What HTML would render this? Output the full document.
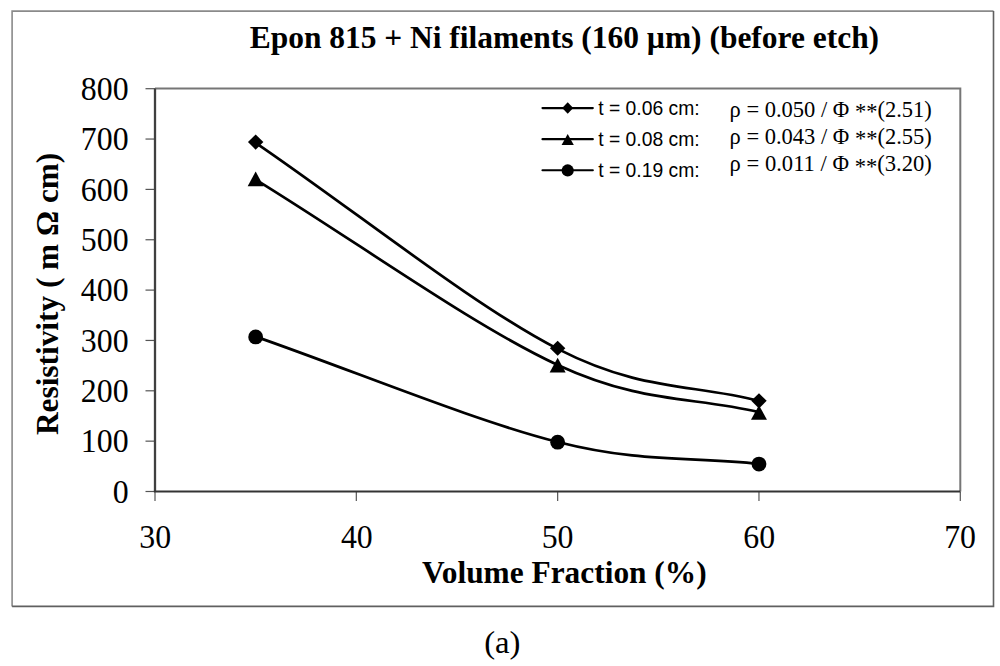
<!DOCTYPE html>
<html><head><meta charset="utf-8"><style>
html,body{margin:0;padding:0;background:#fff;width:1000px;height:666px;overflow:hidden}
svg{display:block}
text{fill:#000}
</style></head><body>
<svg width="1000" height="666" viewBox="0 0 1000 666">
<rect x="0" y="0" width="1000" height="666" fill="#fff"/>
<path d="M12.1,606.4 L12.1,11.1 L993.5,11.1" fill="none" stroke="#8a8a8a" stroke-width="1.6"/>
<path d="M993.5,11.1 L993.5,606.4 L12.1,606.4" fill="none" stroke="#606060" stroke-width="1.6"/>
<path d="M155,88.6 L960.3,88.6 L960.3,491.5" fill="none" stroke="#767676" stroke-width="2"/>
<g stroke="#555" stroke-width="1.2">
<line x1="145.5" y1="491.50" x2="155" y2="491.50"/>
<line x1="145.5" y1="441.15" x2="155" y2="441.15"/>
<line x1="145.5" y1="390.80" x2="155" y2="390.80"/>
<line x1="145.5" y1="340.45" x2="155" y2="340.45"/>
<line x1="145.5" y1="290.10" x2="155" y2="290.10"/>
<line x1="145.5" y1="239.75" x2="155" y2="239.75"/>
<line x1="145.5" y1="189.40" x2="155" y2="189.40"/>
<line x1="145.5" y1="139.05" x2="155" y2="139.05"/>
<line x1="145.5" y1="88.70" x2="155" y2="88.70"/>
<line x1="155.00" y1="491.5" x2="155.00" y2="501"/>
<line x1="356.32" y1="491.5" x2="356.32" y2="501"/>
<line x1="557.65" y1="491.5" x2="557.65" y2="501"/>
<line x1="758.97" y1="491.5" x2="758.97" y2="501"/>
<line x1="960.30" y1="491.5" x2="960.30" y2="501"/>
</g>
<path d="M155,88.6 L155,491.5" fill="none" stroke="#404040" stroke-width="2.3"/>
<path d="M153.9,491.5 L960.3,491.5" fill="none" stroke="#333" stroke-width="2.2"/>
<text transform="translate(249.69,47.90) scale(1.0149,1.0000)" style='font-family:"Liberation Serif",serif;font-weight:bold;font-size:31px'>Epon 815 + Ni filaments (160 µm) (before etch)</text>
<text transform="translate(112.68,502.70) scale(0.9650,1.0000)" style='font-family:"Liberation Serif",serif;font-weight:normal;font-size:33px'>0</text>
<text transform="translate(80.84,452.35) scale(0.9650,1.0000)" style='font-family:"Liberation Serif",serif;font-weight:normal;font-size:33px'>100</text>
<text transform="translate(80.84,402.00) scale(0.9650,1.0000)" style='font-family:"Liberation Serif",serif;font-weight:normal;font-size:33px'>200</text>
<text transform="translate(80.84,351.65) scale(0.9650,1.0000)" style='font-family:"Liberation Serif",serif;font-weight:normal;font-size:33px'>300</text>
<text transform="translate(80.84,301.30) scale(0.9650,1.0000)" style='font-family:"Liberation Serif",serif;font-weight:normal;font-size:33px'>400</text>
<text transform="translate(80.84,250.95) scale(0.9650,1.0000)" style='font-family:"Liberation Serif",serif;font-weight:normal;font-size:33px'>500</text>
<text transform="translate(80.84,200.60) scale(0.9650,1.0000)" style='font-family:"Liberation Serif",serif;font-weight:normal;font-size:33px'>600</text>
<text transform="translate(80.84,150.25) scale(0.9650,1.0000)" style='font-family:"Liberation Serif",serif;font-weight:normal;font-size:33px'>700</text>
<text transform="translate(80.84,99.90) scale(0.9650,1.0000)" style='font-family:"Liberation Serif",serif;font-weight:normal;font-size:33px'>800</text>
<text transform="translate(139.26,547.70) scale(0.9650,1.0000)" style='font-family:"Liberation Serif",serif;font-weight:normal;font-size:33px'>30</text>
<text transform="translate(340.94,547.70) scale(0.9650,1.0000)" style='font-family:"Liberation Serif",serif;font-weight:normal;font-size:33px'>40</text>
<text transform="translate(541.67,547.70) scale(0.9650,1.0000)" style='font-family:"Liberation Serif",serif;font-weight:normal;font-size:33px'>50</text>
<text transform="translate(743.23,547.70) scale(0.9650,1.0000)" style='font-family:"Liberation Serif",serif;font-weight:normal;font-size:33px'>60</text>
<text transform="translate(944.19,547.70) scale(0.9650,1.0000)" style='font-family:"Liberation Serif",serif;font-weight:normal;font-size:33px'>70</text>
<text transform="translate(57.60,434.99) rotate(-90) scale(0.9782,1.0000)" style='font-family:"Liberation Serif",serif;font-weight:bold;font-size:32px'>Resistivity ( m Ω cm)</text>
<text transform="translate(421.95,583.40) scale(0.9808,1.0000)" style='font-family:"Liberation Serif",serif;font-weight:bold;font-size:32px'>Volume Fraction (%)</text>
<text transform="translate(598.15,114.70) scale(0.9910,1.0000)" style='font-family:"Liberation Sans",sans-serif;font-weight:normal;font-size:19.5px'>t = 0.06 cm:</text>
<text transform="translate(598.15,146.00) scale(0.9910,1.0000)" style='font-family:"Liberation Sans",sans-serif;font-weight:normal;font-size:19.5px'>t = 0.08 cm:</text>
<text transform="translate(598.15,177.20) scale(0.9910,1.0000)" style='font-family:"Liberation Sans",sans-serif;font-weight:normal;font-size:19.5px'>t = 0.19 cm:</text>
<text transform="translate(729.56,116.50) scale(0.9581,1.0000)" style='font-family:"Liberation Serif",serif;font-weight:normal;font-size:23.5px'>ρ = 0.050 / Φ <tspan dy="2.5">**</tspan><tspan dy="-2.5">(2.51)</tspan></text>
<text transform="translate(729.56,143.90) scale(0.9581,1.0000)" style='font-family:"Liberation Serif",serif;font-weight:normal;font-size:23.5px'>ρ = 0.043 / Φ <tspan dy="2.5">**</tspan><tspan dy="-2.5">(2.55)</tspan></text>
<text transform="translate(729.56,171.20) scale(0.9627,1.0000)" style='font-family:"Liberation Serif",serif;font-weight:normal;font-size:23.5px'>ρ = 0.011 / Φ <tspan dy="2.5">**</tspan><tspan dy="-2.5">(3.20)</tspan></text>
<text transform="translate(484.16,653.00) scale(1.0246,1.0000)" style='font-family:"Liberation Serif",serif;font-weight:normal;font-size:32px'>(a)</text>
<g fill="#000">
<path d="M255.66,142.78 C356.32,211.47 473.76,305.84 557.65,348.86 C641.54,391.87 691.87,383.53 758.98,400.87" fill="none" stroke="#000" stroke-width="2.70" stroke-linejoin="round"/>
<path d="M255.66,179.58 C356.32,241.36 473.76,326.16 557.65,364.92 C641.54,403.68 691.87,396.41 758.98,412.15" fill="none" stroke="#000" stroke-width="2.70" stroke-linejoin="round"/>
<path d="M255.66,336.62 C356.32,371.73 473.76,420.73 557.65,441.96 C641.54,463.18 691.87,456.62 758.98,463.96" fill="none" stroke="#000" stroke-width="2.70" stroke-linejoin="round"/>
<path d="M255.66,134.47 L263.36,142.07 L255.66,149.67 L247.96,142.07 Z"/>
<path d="M557.65,340.65 L565.35,348.25 L557.65,355.85 L549.95,348.25 Z"/>
<path d="M758.98,393.27 L766.68,400.87 L758.98,408.47 L751.27,400.87 Z"/>
<path d="M255.66,171.53 L263.66,186.13 L247.66,186.13 Z"/>
<path d="M557.65,357.82 L565.65,372.42 L549.65,372.42 Z"/>
<path d="M758.98,405.15 L766.98,419.75 L750.98,419.75 Z"/>
<circle cx="255.66" cy="336.93" r="7.40"/>
<circle cx="557.65" cy="442.16" r="7.40"/>
<circle cx="758.98" cy="464.06" r="7.40"/>
</g>
<g fill="#000">
<line x1="542.5" y1="108.05" x2="592.8" y2="108.05" stroke="#000" stroke-width="2.2" stroke-linecap="round"/>
<line x1="542.5" y1="139.20" x2="592.8" y2="139.20" stroke="#000" stroke-width="2.2" stroke-linecap="round"/>
<line x1="542.5" y1="170.24" x2="592.8" y2="170.24" stroke="#000" stroke-width="2.2" stroke-linecap="round"/>
<path d="M567.70,102.30 L573.20,108.05 L567.70,113.80 L562.20,108.05 Z"/>
<path d="M567.70,134.10 L573.80,145.10 L561.60,145.10 Z"/>
<circle cx="567.70" cy="170.44" r="6.10"/>
</g>
</svg>
</body></html>
